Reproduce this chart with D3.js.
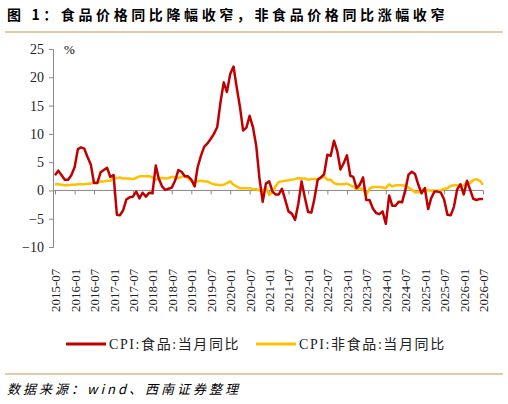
<!DOCTYPE html>
<html><head><meta charset="utf-8">
<script src="https://cdn.jsdelivr.net/npm/d3@7"></script>
<style>body{margin:0;background:#fff}</style>
</head><body>
<svg id="c" width="508" height="404"></svg>
<script>
// 数据：2015-07 至 2026-07 月度同比
var startMonth = "2015-07";
var foodYoy = [2.7,3.5,2.7,1.9,1.9,2.7,
 4.1,7.3,7.6,7.4,5.9,4.6,1.3,1.3,3.2,3.6,4.0,2.4,
 2.7,-4.3,-4.4,-3.5,-1.6,-1.2,-1.1,-0.2,-1.4,-0.4,-1.1,-0.4,
 -0.5,4.4,2.1,0.7,0.1,0.3,0.5,1.7,3.6,3.3,2.5,2.5,
 1.9,0.7,4.1,6.1,7.7,8.3,9.1,10.0,11.2,15.5,19.1,17.4,
 20.6,21.9,18.3,14.8,10.6,11.1,13.2,11.2,7.9,2.2,-2.0,1.2,
 1.6,-0.2,-0.7,-0.7,0.3,-1.7,-3.7,-4.1,-5.2,-2.4,1.6,-1.2,
 -3.8,-3.9,-1.5,1.9,2.3,2.9,6.3,6.1,8.8,7.0,3.7,4.8,
 6.2,2.6,2.4,0.4,1.0,2.3,-1.7,-1.7,-3.2,-4.0,-4.2,-3.7,
 -5.9,-0.9,-2.7,-2.7,-2.0,-2.1,0.0,2.8,3.3,2.9,1.0,-0.5,
 0.4,-3.3,-1.4,-0.2,-0.2,-0.4,-1.6,-4.3,-4.4,-2.9,0.2,1.1,
 -0.7,1.7,0.2,-1.5,-1.7,-1.5,-1.5];
var nonFoodYoy = [1.1,1.1,1.0,0.9,0.9,1.0,
 1.0,1.1,1.1,1.1,1.2,1.2,1.4,1.4,1.6,1.6,1.7,1.7,
 2.2,2.2,2.3,2.1,2.1,2.1,2.0,2.2,2.5,2.5,2.5,2.5,
 2.3,1.9,2.1,2.2,2.1,2.2,2.4,2.3,2.2,2.4,2.5,2.2,
 1.7,1.6,1.6,1.7,1.6,1.6,1.3,1.1,1.0,0.9,1.0,1.3,
 1.6,1.0,0.7,0.4,0.4,0.4,0.4,0.2,0.2,0.0,0.0,0.4,
 -0.8,-0.3,0.7,1.5,1.6,1.7,1.8,1.9,2.0,2.2,2.1,2.1,
 1.9,2.0,2.0,2.0,2.2,2.5,1.9,1.9,1.3,1.1,1.1,1.1,
 1.2,0.9,0.7,0.2,0.4,0.2,-0.8,0.3,0.6,0.6,0.6,0.5,
 0.4,1.1,0.7,0.9,0.9,0.9,0.8,0.5,0.1,-0.3,-0.3,0.0,
 0.2,0.0,0.0,0.0,0.0,0.0,0.3,0.4,0.8,0.9,0.9,0.8,
 0.9,1.4,1.3,1.8,2.0,1.7,1.0];
var yTicks = [25,20,15,10,5,0,-5,-10];
var seriesNames = ["CPI:食品:当月同比","CPI:非食品:当月同比"];
var seriesColors = ["#c00000","#ffc000"];

var parse = d3.timeParse("%Y-%m");
var fmt = d3.timeFormat("%Y-%m");
var t0 = parse(startMonth);
var dates = foodYoy.map(function(d,i){ return d3.timeMonth.offset(t0,i); });

var svg = d3.select("#c");
var serif = "'Liberation Serif','Noto Sans CJK SC',serif";

// 标题
svg.append("text").attr("x",7).attr("y",20)
  .style("font-family","'Noto Sans CJK SC'").style("font-size","14px").style("font-weight","bold")
  .style("letter-spacing","3.6px")
  .text("图 1：食品价格同比降幅收窄，非食品价格同比涨幅收窄");
svg.append("line").attr("x1",5).attr("x2",503).attr("y1",32).attr("y2",32)
  .attr("stroke","#c8964b").attr("stroke-width",1.2);

var x = d3.scaleTime().domain([dates[0], dates[dates.length-1]]).range([55,483]);
var y = d3.scaleLinear().domain([-10,25]).range([247,49]);

// Y轴
var ya = svg.append("g").attr("transform","translate(53,0)")
  .call(d3.axisLeft(y).tickValues(yTicks).tickSize(4).tickFormat(function(d){ return d<0 ? "\u2212"+(-d) : d; }));
ya.select(".domain").attr("stroke","#888");
ya.selectAll(".tick line").attr("stroke","#888");
ya.selectAll("text").style("font-family",serif).style("font-size","14px").attr("fill","#222").attr("dx","-2");

svg.append("text").attr("x",64).attr("y",54).style("font-family",serif).style("font-size","13px").text("%");

// 零线及刻度
var zero = y(0);
svg.append("line").attr("x1",53).attr("x2",483).attr("y1",zero).attr("y2",zero).attr("stroke","#888");
var tickDates = dates.filter(function(d,i){ return i%6===0; });
var xa = svg.append("g").attr("transform","translate(0,"+zero+")")
  .call(d3.axisBottom(x).tickValues(tickDates).tickSize(4).tickFormat(""));
xa.select(".domain").remove();
xa.selectAll(".tick line").attr("stroke","#888");

// X轴标签
svg.append("g").selectAll("text").data(tickDates).enter().append("text")
  .attr("transform",function(d){ return "translate("+(x(d)+5)+",312) rotate(-90)"; })
  .style("font-family",serif).style("font-size","13px").attr("fill","#222")
  .text(function(d){ return fmt(d); });

// 折线
var line = d3.line().x(function(d,i){ return x(dates[i]); }).y(function(d){ return y(d); });
svg.append("path").datum(nonFoodYoy).attr("d",line).attr("fill","none")
  .attr("stroke",seriesColors[1]).attr("stroke-width",2.5).attr("stroke-linejoin","round");
svg.append("path").datum(foodYoy).attr("d",line).attr("fill","none")
  .attr("stroke",seriesColors[0]).attr("stroke-width",2.5).attr("stroke-linejoin","round");

// 图例
var legend = svg.selectAll(".legend").data(seriesNames).enter().append("g")
  .attr("transform",function(d,i){ return "translate("+(i===0 ? 66 : 256)+",344)"; });
legend.append("line").attr("x1",0).attr("x2",40).attr("stroke",function(d,i){ return seriesColors[i]; }).attr("stroke-width",3);
legend.append("text").attr("x",43).attr("y",5)
  .style("font-family",serif).style("font-size","14px").style("letter-spacing","1.6px")
  .attr("fill","#222").text(function(d){ return d; });

// 底部
svg.append("line").attr("x1",5).attr("x2",503).attr("y1",374).attr("y2",374)
  .attr("stroke","#c8964b").attr("stroke-width",1.2);
svg.append("text").attr("x",7).attr("y",394)
  .style("font-family","'Noto Sans CJK SC'").style("font-size","13px").style("font-style","italic")
  .style("letter-spacing","3px")
  .text("数据来源：wind、西南证券整理");
</script>
</body></html>
